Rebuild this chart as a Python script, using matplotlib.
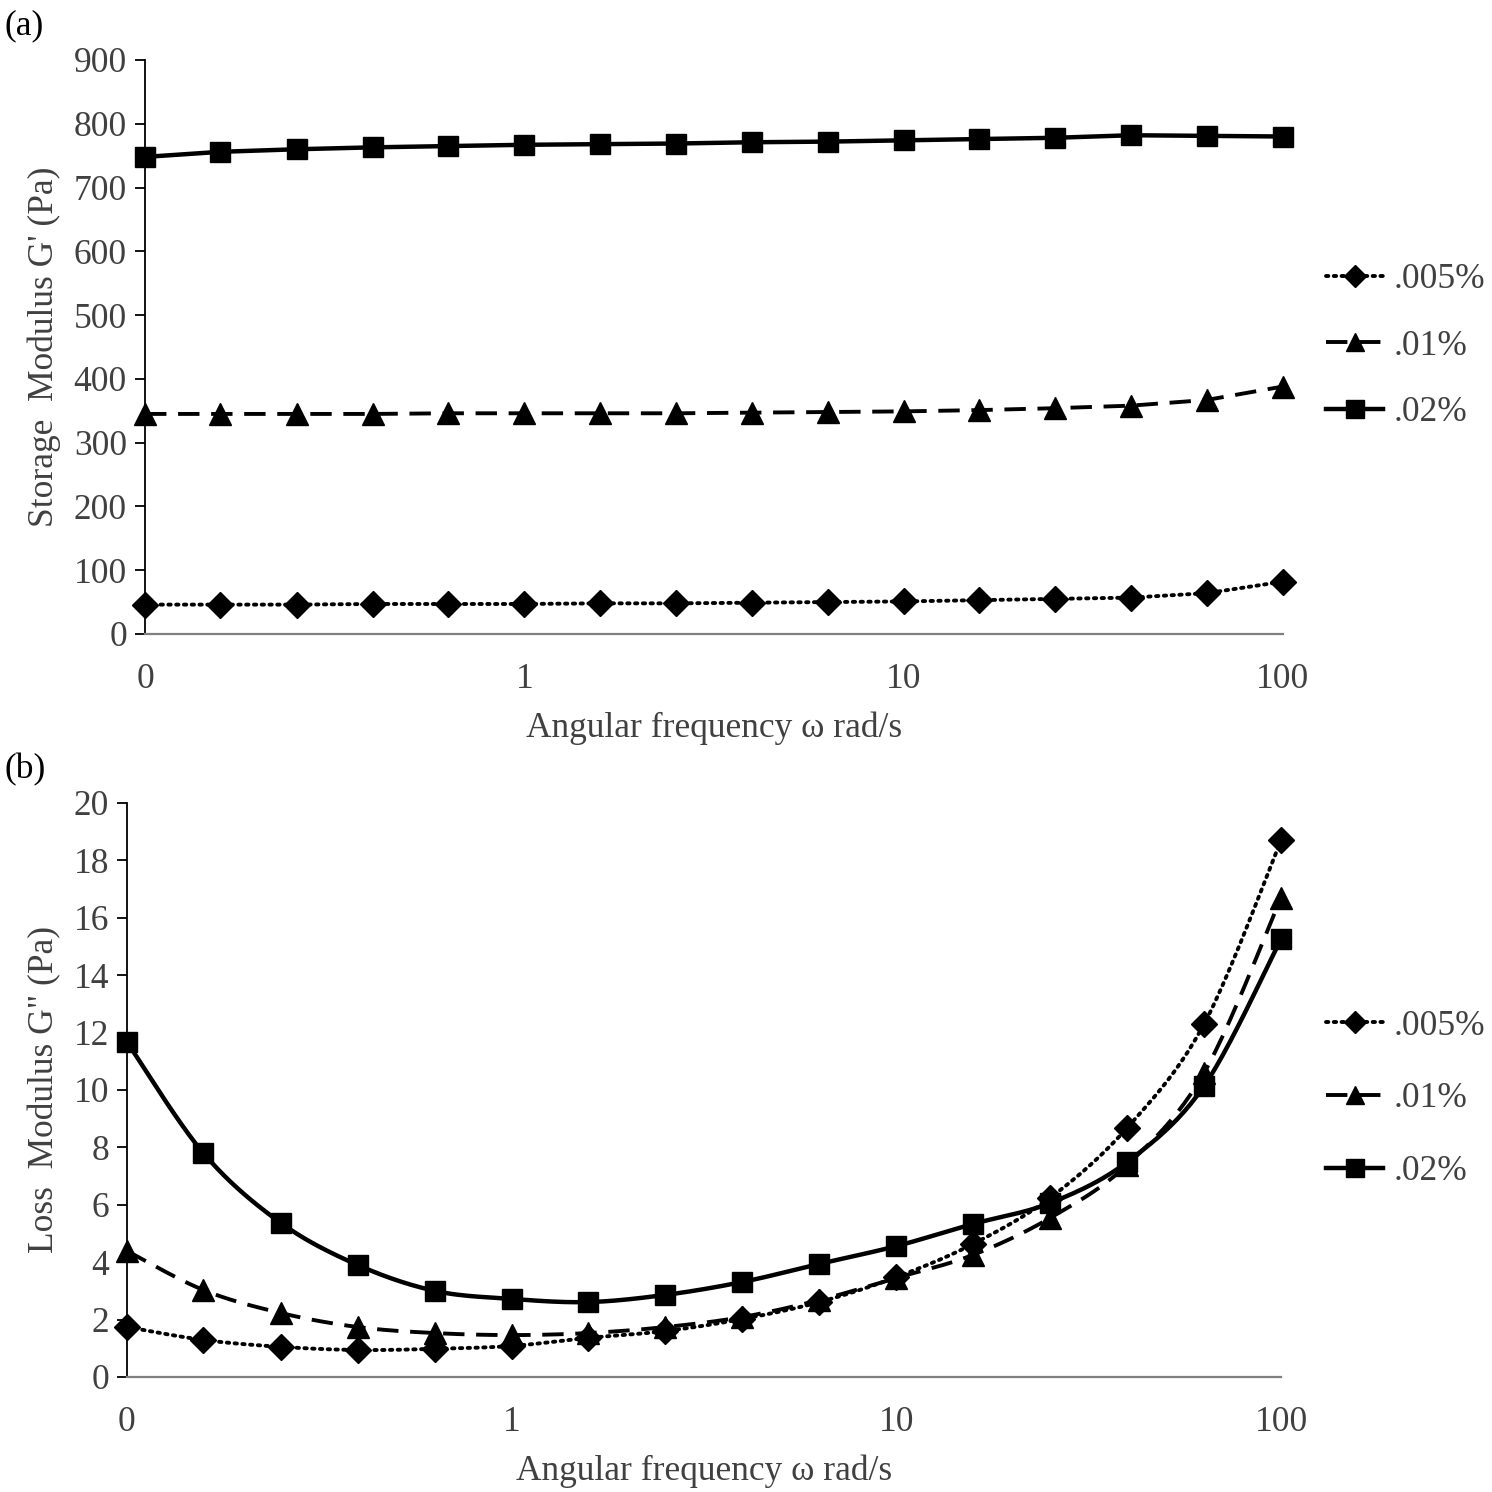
import numpy as np
import matplotlib
matplotlib.use("Agg")
import matplotlib.pyplot as plt
import matplotlib.ticker as ticker
from matplotlib.lines import Line2D

plt.rcParams["font.family"] = ["Liberation Serif", "DejaVu Serif"]

# angular frequency (rad/s), 16 points per decade-spaced sweep
omega = [0.1, 0.158, 0.251, 0.398, 0.631, 1.0, 1.58, 2.51, 3.98, 6.31,
         10.0, 15.8, 25.1, 39.8, 63.1, 100.0]

series_names = [".005%", ".01%", ".02%"]

# storage modulus G' (Pa)
g1_005 = [46, 46, 46, 47, 47, 47, 48, 48, 49, 50, 51, 53, 55, 57, 64, 82]
g1_01 = [345, 345, 345, 345, 346, 346, 346, 346, 347, 348, 349, 351, 354, 358, 367, 388]
g1_02 = [748, 756, 760, 763, 765, 767, 768, 769, 771, 772, 774, 776, 778, 782, 781, 780]

# loss modulus G'' (Pa)
g2_005 = [1.74, 1.29, 1.05, 0.94, 0.98, 1.08, 1.36, 1.60, 2.02, 2.61,
          3.48, 4.63, 6.24, 8.68, 12.3, 18.7]
g2_01 = [4.39, 3.03, 2.23, 1.74, 1.53, 1.46, 1.53, 1.74, 2.09, 2.68,
         3.45, 4.25, 5.54, 7.39, 10.6, 16.7]
g2_02 = [11.67, 7.80, 5.37, 3.90, 3.00, 2.72, 2.61, 2.86, 3.31, 3.94,
         4.56, 5.33, 6.06, 7.49, 10.14, 15.26]

x_tick_vals = [0.1, 1, 10, 100]
x_tick_labels = ["0", "1", "10", "100"]

TEXT = "#404040"
FS = 25.5

styles = [
    dict(ls=(0, (0.6, 1.4)), lw=2.8, marker="D", ms=13, dash_capstyle="round"),
    dict(ls=(0, (5.5, 3.0)), lw=2.8, marker="^", ms=16, dash_capstyle="butt"),
    dict(ls="-", lw=3.2, marker="s", ms=15, dash_capstyle="butt"),
]


def smooth_curve(xs, ys, steps=24):
    # Excel-like smoothed line: cubic Bezier through the points in log-x space
    lx = np.log10(np.asarray(xs, float))
    y = np.asarray(ys, float)
    px = np.concatenate([[lx[0]], lx, [lx[-1]]])
    py = np.concatenate([[y[0]], y, [y[-1]]])
    out_x, out_y = [], []
    t = np.linspace(0, 1, steps)
    for i in range(1, len(px) - 2):
        p0 = np.array([px[i], py[i]])
        p3 = np.array([px[i + 1], py[i + 1]])
        c1 = p0 + (np.array([px[i + 1], py[i + 1]]) - np.array([px[i - 1], py[i - 1]])) / 6
        c2 = p3 - (np.array([px[i + 2], py[i + 2]]) - np.array([px[i], py[i]])) / 6
        b = ((1 - t) ** 3)[:, None] * p0 + (3 * (1 - t) ** 2 * t)[:, None] * c1 \
            + (3 * (1 - t) * t ** 2)[:, None] * c2 + (t ** 3)[:, None] * p3
        out_x.append(b[:, 0])
        out_y.append(b[:, 1])
    return 10 ** np.concatenate(out_x), np.concatenate(out_y)


def style_axes(ax, ymax, ystep, ylabel):
    ax.set_xscale("log")
    ax.set_xlim(0.1, 100)
    ax.set_ylim(0, ymax)
    ax.xaxis.set_major_locator(ticker.FixedLocator(x_tick_vals))
    ax.xaxis.set_major_formatter(ticker.FixedFormatter(x_tick_labels))
    ax.xaxis.set_minor_locator(ticker.NullLocator())
    ax.yaxis.set_major_locator(ticker.MultipleLocator(ystep))
    ax.tick_params(axis="x", length=0, pad=21, labelsize=FS, labelcolor=TEXT)
    ax.tick_params(axis="y", length=7, width=1.3, direction="out", pad=6,
                   labelsize=FS, labelcolor=TEXT, color="black")
    for s in ("top", "right"):
        ax.spines[s].set_visible(False)
    ax.spines["left"].set_linewidth(1.3)
    ax.spines["left"].set_color("black")
    ax.spines["bottom"].set_linewidth(1.6)
    ax.spines["bottom"].set_color("#7f7f7f")
    ax.set_xlabel("Angular frequency ω rad/s", fontsize=FS, color=TEXT, labelpad=11)
    ax.set_ylabel(ylabel, fontsize=FS, color=TEXT, labelpad=9)


def legend_handles():
    hs = []
    for name, st in zip(series_names, styles):
        hs.append(Line2D([], [], color="black", ls=st["ls"], lw=st["lw"],
                         marker=st["marker"], ms=st["ms"] * 0.85,
                         dash_capstyle=st["dash_capstyle"], label=name))
    return hs


fig = plt.figure(figsize=(14.92, 14.92), dpi=100)

# (a) storage modulus
ax1 = fig.add_axes([0.0972, 0.5751, 0.7627, 0.3847])
for vals, st in zip([g1_005, g1_01, g1_02], styles):
    ax1.plot(omega, vals, color="black", ls=st["ls"], lw=st["lw"],
             marker=st["marker"], ms=st["ms"], dash_capstyle=st["dash_capstyle"],
             clip_on=False, zorder=3)
style_axes(ax1, 900, 100, "Storage  Modulus G' (Pa)")
fig.legend(handles=legend_handles(), loc="center left",
           bbox_to_anchor=(0.889, 0.768), frameon=False, fontsize=FS,
           handlelength=1.6, handletextpad=0.3, labelspacing=0.95,
           borderpad=0, borderaxespad=0, labelcolor=TEXT)

# (b) loss modulus, smoothed lines
ax2 = fig.add_axes([0.0851, 0.0771, 0.7735, 0.3847])
for vals, st in zip([g2_005, g2_01, g2_02], styles):
    sx, sy = smooth_curve(omega, vals)
    ax2.plot(sx, sy, color="black", ls=st["ls"], lw=st["lw"],
             dash_capstyle=st["dash_capstyle"], clip_on=False, zorder=3)
    ax2.plot(omega, vals, color="black", ls="none", marker=st["marker"],
             ms=st["ms"], clip_on=False, zorder=4)
style_axes(ax2, 20, 2, 'Loss  Modulus G" (Pa)')
fig.legend(handles=legend_handles(), loc="center left",
           bbox_to_anchor=(0.889, 0.2635), frameon=False, fontsize=FS,
           handlelength=1.6, handletextpad=0.3, labelspacing=1.12,
           borderpad=0, borderaxespad=0, labelcolor=TEXT)

fig.text(0.003, 0.983, "(a)", fontsize=FS, color="black", va="center")
fig.text(0.003, 0.484, "(b)", fontsize=FS, color="black", va="center")

fig.savefig("out.png", dpi=100, facecolor="white")
